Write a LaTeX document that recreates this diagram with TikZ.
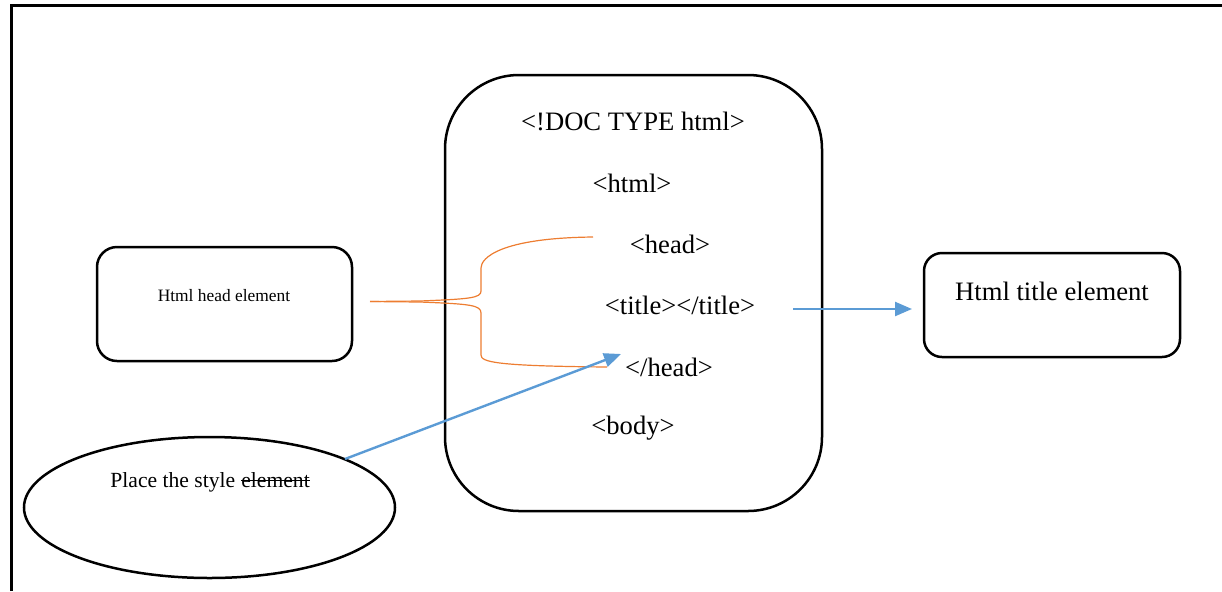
\documentclass[tikz,border=0pt]{standalone}
\usepackage{fontspec}
\setmainfont{Liberation Serif}
\usetikzlibrary{shapes.geometric,arrows.meta}
\definecolor{blueline}{HTML}{5B9BD5}
\definecolor{orangeline}{HTML}{ED7D31}
\tikzset{
  boxstyle/.style={draw=black, line width=1.25pt, inner sep=0pt},
  codetext/.style={font=\fontsize{13.3}{15}\selectfont, inner sep=0pt},
  styletextstyle/.style={font=\fontsize{10.8}{12}\selectfont, inner sep=0pt},
  bluearrow/.style={draw=blueline, line width=1.2pt, -{Triangle[length=8.5pt,width=7pt]}},
  bracestyle/.style={draw=orangeline, line width=0.6pt}
}
\begin{document}
\begin{tikzpicture}[x=0.5pt,y=-0.5pt]
\useasboundingbox (0,0) rectangle (1222,591);
% frame
\draw[line width=1.5pt] (11,591) -- (11,5) -- (1222,5);
% main box
\node[boxstyle, rounded corners=37pt, minimum width=188.5pt, minimum height=218pt] (main) at (633.5,293) {};
\node[codetext] (doctype) at (633,121) {<!DOC TYPE html>};
\node[codetext] (html) at (632,183) {<html>};
\node[codetext] (head) at (670,244) {<head>};
\node[codetext] (title) at (680,305) {<title></title>};
\node[codetext] (endhead) at (669,367) {</head>};
\node[codetext] (body) at (633,428) {<body>};
% left box
\node[boxstyle, rounded corners=10pt, minimum width=127.5pt, minimum height=57pt] (headbox) at (224.5,304) {};
\node[font=\fontsize{8.7}{10}\selectfont, inner sep=0pt] (headtext) at (224,296) {Html head element};
% right box
\node[boxstyle, rounded corners=9pt, minimum width=128pt, minimum height=52pt] (titlebox) at (1052,305) {};
\node[codetext] (titletext) at (1052,291) {Html title element};
% ellipse
\node[draw=black, line width=1.25pt, ellipse, minimum width=185.5pt, minimum height=70.5pt, inner sep=0pt] (stylebox) at (209.5,507.5) {};
\node[styletextstyle, anchor=base west] (styletext) at (110,487) {Place the style\strut};
\node[styletextstyle, anchor=base west] (strucktext) at (241,487) {element\strut};
\draw[line width=0.5pt] ([yshift=3.2pt]strucktext.base west) -- ([yshift=3.2pt]strucktext.base east);
% coordinates
\coordinate (bracetip) at (370,301.5);
\coordinate (bracetop) at (593,237);
\coordinate (bracebot) at (607,367);
\coordinate (titleout) at (793,309);
\coordinate (titlein) at (912,309);
\coordinate (styleout) at (345,459);
\coordinate (stylein) at (621,354);
% brace
\draw[bracestyle] (bracetip) -- (420,301) .. controls (470,299) and (481,298) .. (481,291)
  -- (481,268) .. controls (481,258) and (500,238) .. (bracetop);
\draw[bracestyle] (bracetip) -- (420,302) .. controls (470,304) and (481,305) .. (481,313)
  -- (481,355) .. controls (481,362) and (495,366) .. (bracebot);
% arrows
\draw[bluearrow] (titleout) -- (titlein);
\draw[bluearrow] (styleout) -- (stylein);
\end{tikzpicture}
\end{document}
